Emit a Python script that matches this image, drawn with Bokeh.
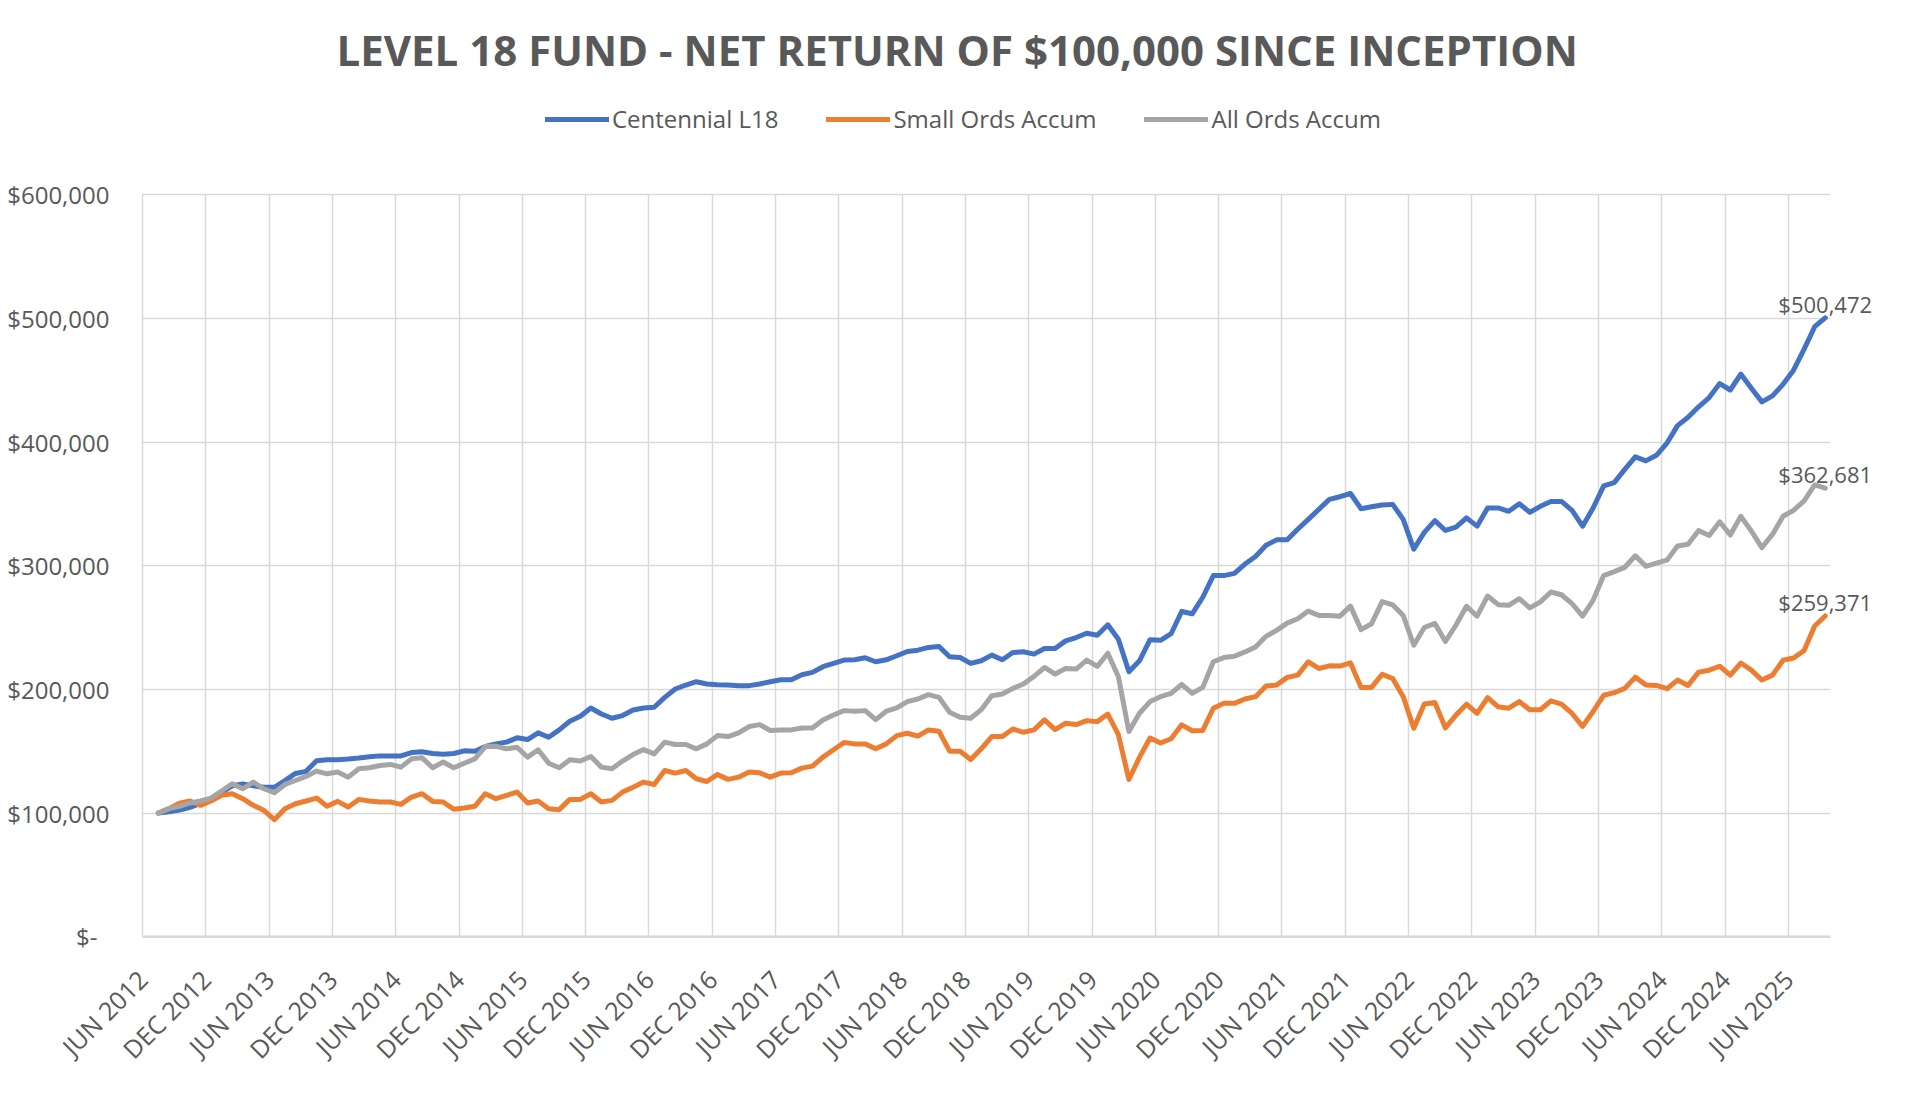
from bokeh.plotting import figure
from bokeh.models import FixedTicker, Legend, LegendItem, Range1d, ColumnDataSource
from bokeh.embed import file_html
from bokeh.resources import INLINE
from bokeh.core.properties import value

# ---------------- data (values in $ thousands, monthly from Jul 2012 to Sep 2025) ----------------
series_names = ["Centennial L18", "Small Ords Accum", "All Ords Accum"]
series_colors = ["#4472C4", "#ED7D31", "#A5A5A5"]

centennial_k = [
    100, 101, 102.4, 104.6, 107.8, 111.3, 116.7, 122, 123.4, 122,
    120.8, 120.8, 126.2, 132, 133.7, 142.3, 143.1, 143.1, 143.6, 144.4,
    145.5, 146.2, 146.2, 146.2, 148.9, 149.5, 148.1, 147.6, 148.1, 150.3,
    150.0, 153.8, 155.9, 157.3, 160.8, 159.4, 164.8, 161.3, 167.2, 174.2,
    178.2, 184.9, 180.1, 176.6, 178.8, 183.3, 184.9, 185.5, 193.5, 200.3,
    203.5, 206.2, 204.3, 203.8, 203.5, 203, 203, 204.3, 206.2, 207.8,
    207.8, 211.8, 213.7, 218.3, 221, 223.7, 223.9, 225.5, 222.3, 223.9,
    227.2, 230.6, 231.7, 233.9, 234.7, 226.3, 225.8, 221, 223.1, 227.7,
    223.9, 229.8, 230.4, 228.5, 233.1, 233.1, 239.2, 241.9, 245.4, 243.8,
    252.2, 240.5, 214.2, 223.1, 240.2, 239.7, 245, 263, 261.1, 274.5,
    292, 292, 293.8, 301.3, 307.5, 316.6, 320.9, 320.9, 329.5, 337.5,
    345.6, 353.6, 355.8, 358.4, 346.1, 347.7, 349.1, 349.6, 337.5, 313.4,
    327, 336.5, 328.5, 331.2, 338.7, 332, 346.7, 346.7, 344, 350.1,
    343.2, 348, 352, 352, 344.8, 332, 346.7, 364.5, 367.2, 377.9,
    388, 384.8, 389.3, 399.2, 413.3, 420, 428.5, 436, 447.3, 442.1,
    455, 443.5, 432.5, 437.3, 446.7, 458.1, 475.2, 493.3, 500.472,
]

small_ords_k = [
    100, 103.5, 108, 109.7, 106.2, 109.7, 114.3, 115.6, 111.6, 106.2,
    102.2, 94.6, 103.5, 107.5, 109.7, 112.1, 105.4, 109.4, 104.8, 111,
    109.7, 108.9, 108.9, 107, 112.9, 115.6, 109.4, 108.9, 103, 104,
    105.4, 115.6, 111.6, 114.2, 116.9, 108.1, 109.7, 103.5, 102.7, 111,
    111, 115.6, 108.9, 110.2, 116.9, 120.9, 125, 123.1, 134.4, 132.3,
    134.4, 127.7, 125.5, 131.2, 127.2, 129, 133.1, 132.5, 129, 132.3,
    132.5, 136.3, 137.9, 145.2, 151.1, 157, 155.9, 155.9, 151.9, 155.9,
    162.6, 164.5, 162.1, 167.2, 166.1, 150, 150, 143.3, 151.9, 161.8,
    161.8, 168, 165.3, 167.2, 175.3, 167.5, 172.6, 171.5, 174.7, 173.9,
    180, 163.3, 127.1, 145, 160.6, 156.6, 160.1, 171.3, 166.5, 166.8,
    184.7, 188.7, 188.7, 192.2, 194.1, 202.7, 203.5, 209.7, 211.5, 222.3,
    216.9, 219, 218.8, 221.4, 201.6, 201.6, 212.1, 208.8, 194.1, 168.6,
    188.1, 189.3, 168.8, 179.2, 188, 180.5, 193.3, 185.9, 184.8, 190.1,
    183.5, 183.5, 190.7, 188, 180.5, 170.1, 182.1, 195.2, 197.3, 200.8,
    209.9, 203.5, 203.2, 200.5, 207.5, 203.2, 213.9, 215.5, 218.7, 211.5,
    221.3, 215.5, 207.5, 211.5, 223.5, 225.3, 231.5, 251.2, 259.371,
]

all_ords_k = [
    100, 103.5, 105.4, 108.1, 109.7, 112.1, 117.8, 123.7, 119.6, 125,
    119.6, 116.4, 123.1, 126.3, 129.6, 133.9, 131.7, 133.1, 129, 135.8,
    136.6, 138.4, 139.3, 137.1, 143.8, 144.6, 136.6, 141.2, 136.6, 140.3,
    143.8, 153.7, 154, 151.9, 153.2, 145.2, 151.1, 140.3, 136.6, 143,
    142, 145.7, 137.1, 135.8, 142, 147.3, 151.3, 147.8, 157.3, 155.4,
    155.4, 151.9, 155.9, 162.6, 161.8, 164.8, 169.9, 171.5, 166.7, 167.2,
    167.2, 168.8, 168.8, 175.3, 179.3, 182.8, 182.3, 182.8, 175.5, 182.3,
    185, 190.1, 192.2, 195.7, 193.5, 181.5, 177.4, 176.6, 183.6, 194.9,
    196.2, 200.8, 204.3, 210.5, 217.7, 212.4, 216.9, 216.4, 223.7, 218.6,
    229.2, 210.2, 165.9, 180.7, 190.1, 194.1, 196.8, 204, 196.8, 201.6,
    222.3, 225.7, 226.8, 230.3, 234.3, 242.9, 247.7, 253.6, 257.1, 263.3,
    259.8, 259.8, 259.2, 267.3, 248.3, 253.1, 271, 268.4, 259.8, 235.7,
    250, 253.3, 238.7, 252, 267.2, 259.2, 275.5, 268.5, 268, 273.3,
    265.9, 270.7, 278.7, 276.5, 269.3, 259.2, 272, 292, 295.2, 298.7,
    308, 299.5, 302.1, 304.5, 316, 317.3, 328.5, 324.5, 335.5, 324.8,
    340, 328, 314.7, 325.3, 340, 344.8, 352.5, 365.3, 362.681,
]

x_tick_labels = [
    "JUN 2012", "DEC 2012", "JUN 2013", "DEC 2013", "JUN 2014", "DEC 2014",
    "JUN 2015", "DEC 2015", "JUN 2016", "DEC 2016", "JUN 2017", "DEC 2017",
    "JUN 2018", "DEC 2018", "JUN 2019", "DEC 2019", "JUN 2020", "DEC 2020",
    "JUN 2021", "DEC 2021", "JUN 2022", "DEC 2022", "JUN 2023", "DEC 2023",
    "JUN 2024", "DEC 2024", "JUN 2025",
]
y_tick_values = [0, 100000, 200000, 300000, 400000, 500000, 600000]
y_tick_labels = ["$-", "$100,000", "$200,000", "$300,000", "$400,000", "$500,000", "$600,000"]

title_text = "LEVEL 18 FUND - NET RETURN OF $100,000 SINCE INCEPTION"

# ---------------- build ----------------
series_values = [
    [v * 1000 for v in centennial_k],
    [v * 1000 for v in small_ords_k],
    [v * 1000 for v in all_ords_k],
]
n = len(centennial_k)
xs = [i + 1.5 for i in range(n)]          # data centred in monthly slots
n_slots = n + 1                            # Jun 2012 .. Sep 2025
x_tick_pos = [i * 6 for i in range(len(x_tick_labels))]

FONT = "Open Sans"
TXT = "#595959"
GRID = "#D9D9D9"

# geometry (figure pixels)
W, H = 1904, 1080
FRAME_L, FRAME_R = 0, 1890
FRAME_T, FRAME_B = 87, 964
PLOT_L = 142            # category axis start (Jun 2012)
PLOT_R = 1830           # category axis end
PLOT_T = 195            # $600,000 line
PLOT_B = 942            # $0 line
frame_w = FRAME_R - FRAME_L
px_per_slot = (PLOT_R - PLOT_L) / n_slots
px_per_dollar = (PLOT_B - PLOT_T) / y_tick_values[-1]
x_start = -(PLOT_L - FRAME_L) / px_per_slot
y_start = -(FRAME_B - PLOT_B) / px_per_dollar
y_end = (PLOT_B - FRAME_T) / px_per_dollar

p = figure(
    width=W, height=H,
    output_backend="svg", toolbar_location=None,
    x_range=Range1d(x_start, x_start + frame_w / px_per_slot),
    y_range=Range1d(y_start, y_end),
    min_border_left=FRAME_L, min_border_right=W - FRAME_R,
    min_border_top=FRAME_T, min_border_bottom=H - FRAME_B,
)
p.outline_line_color = None
p.background_fill_color = "white"

p.title.text = title_text
p.title.align = "left"
p.title.offset = 336
p.title.standoff = 20
p.title.text_font = FONT
p.title.text_font_style = "bold"
p.title.text_font_size = "42px"
p.title.text_color = TXT

# category (date) axis labels
p.xaxis.ticker = FixedTicker(ticks=x_tick_pos)
p.xaxis.major_label_overrides = {pos: lab for pos, lab in zip(x_tick_pos, x_tick_labels)}
p.xaxis.major_label_orientation = 0.7853981634
p.xaxis.major_label_text_font = FONT
p.xaxis.major_label_text_font_size = "25px"
p.xaxis.major_label_text_color = TXT
p.xaxis.major_tick_line_color = None
p.xaxis.minor_tick_line_color = None
p.xaxis.major_tick_out = 0
p.xaxis.major_tick_in = 0
p.xaxis.axis_line_color = None
p.xaxis.major_label_standoff = 16

# value axis labels, right-aligned left of the plotting area
p.yaxis.visible = False
y_label_x = [(-45 if lab == "$-" else -33) / px_per_slot for lab in y_tick_labels]
p.text(x=y_label_x, y=y_tick_values, text=y_tick_labels,
       text_font=value(FONT), text_font_size="24px", text_color=TXT,
       text_align="right", text_baseline="middle")

# grid restricted to the plotting area ($0 line doubles as the axis line)
if "cross_bounds" in p.xgrid[0].properties():
    p.xgrid.ticker = FixedTicker(ticks=x_tick_pos)
    p.ygrid.ticker = FixedTicker(ticks=y_tick_values)
    p.xgrid.cross_bounds = (0, y_tick_values[-1])
    p.ygrid.cross_bounds = (0, n_slots)
    p.xgrid.grid_line_color = GRID
    p.ygrid.grid_line_color = GRID
    p.xgrid.grid_line_width = 1.5
    p.ygrid.grid_line_width = 1.5
else:
    p.xgrid.visible = False
    p.ygrid.visible = False
    p.segment(x0=x_tick_pos, y0=[0] * len(x_tick_pos),
              x1=x_tick_pos, y1=[y_tick_values[-1]] * len(x_tick_pos),
              line_color=GRID, line_width=1.5)
    p.segment(x0=[0] * len(y_tick_values), y0=y_tick_values,
              x1=[n_slots] * len(y_tick_values), y1=y_tick_values,
              line_color=GRID, line_width=1.5)
p.segment(x0=[0], y0=[0], x1=[n_slots], y1=[0], line_color=GRID, line_width=2.5)

# lines
items = []
for name, color, vals in zip(series_names, series_colors, series_values):
    src = ColumnDataSource(data=dict(x=xs, y=vals))
    r = p.line("x", "y", source=src, line_color=color, line_width=5,
               line_join="round", line_cap="round")
    items.append(LegendItem(label=name, renderers=[r]))

# end-of-series value labels
p.text(x=[xs[-1]] * len(series_values),
       y=[vals[-1] for vals in series_values],
       text=["${:,.0f}".format(vals[-1]) for vals in series_values],
       text_font=value(FONT), text_font_size="22px", text_color=TXT,
       text_align="center", text_baseline="alphabetic", y_offset=-14)

# legend above the $600,000 line, inside the (taller) frame; location = bottom-left
legend = Legend(items=items, orientation="horizontal", location=(545, 823))
legend.label_text_font = FONT
legend.label_text_font_size = "24px"
legend.label_text_color = TXT
legend.glyph_width = 64
legend.glyph_height = 24
legend.label_standoff = 3
legend.spacing = 48
legend.padding = 0
legend.margin = 0
legend.border_line_color = None
legend.background_fill_alpha = 0
p.add_layout(legend, "center")

open("out.html", "w").write(file_html(p, INLINE))
